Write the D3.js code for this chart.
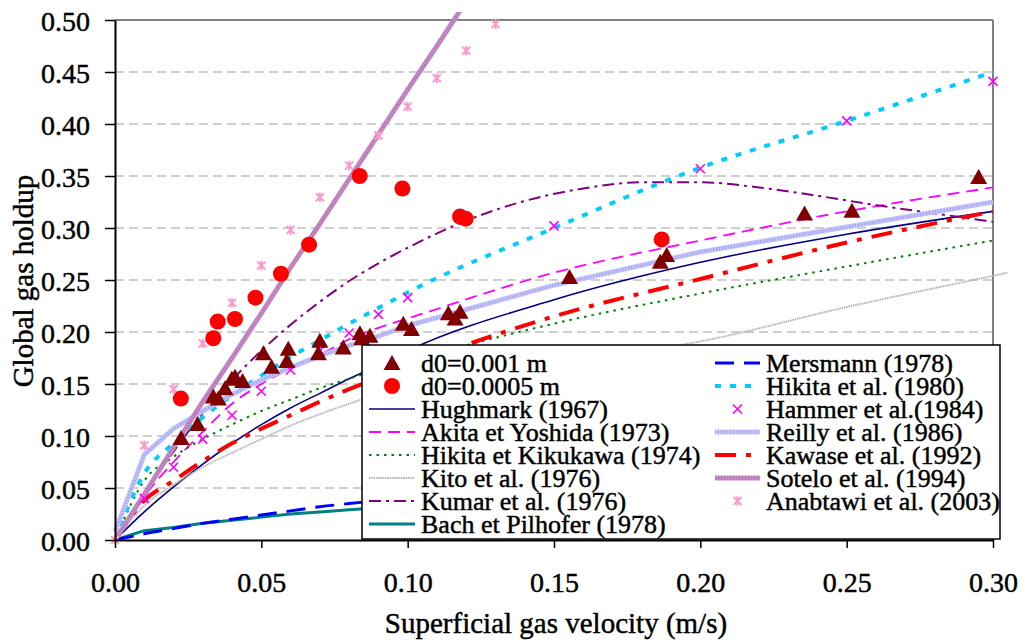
<!DOCTYPE html>
<html><head><meta charset="utf-8">
<script src="https://cdn.jsdelivr.net/npm/d3@7"></script>
<style>
html,body{margin:0;padding:0;background:#fff;}
</style></head>
<body>
<svg id="chart" width="1034" height="640"></svg>
<script>
// ---------- DATA ----------
const yTicks = [0.00,0.05,0.10,0.15,0.20,0.25,0.30,0.35,0.40,0.45,0.50];
const xTicks = [0.00,0.05,0.10,0.15,0.20,0.25,0.30];

// common abscissa of the correlation curves (m/s)
const corrX = [0,0.01,0.02,0.03,0.04,0.05,0.06,0.07,0.08,0.09,0.10,0.15,0.20,0.25,0.30];
const hughmark   = [0,0.027,0.051,0.073,0.093,0.111,0.127,0.141,0.155,0.168,0.182,0.231,0.267,0.294,0.316];
const akita      = [0,0.042,0.075,0.104,0.131,0.150,0.165,0.178,0.193,0.204,0.213,0.257,0.288,0.316,0.339];
const hikitaKik  = [0,0.057,0.080,0.097,0.111,0.124,0.135,0.146,0.155,0.164,0.172,0.208,0.237,0.263,0.288];
const mersmann   = [0,0.006,0.011,0.016,0.020,0.024,0.028,0.032,0.035,0.038,0.041,0.054,0.066,0.076,0.086];
const bach       = [0,0.009,0.012,0.016,0.019,0.022,0.025,0.027,0.029,0.031,0.033,0.042,0.049,0.055,0.061];
const hikita1980 = [0,0.064,0.093,0.118,0.139,0.158,0.176,0.192,0.208,0.223,0.238,0.300,0.358,0.403,0.450];
const reilly     = [0.008,0.082,0.107,0.124,0.140,0.154,0.166,0.177,0.187,0.196,0.206,0.245,0.277,0.301,0.325];
const kawase     = [0,0.038,0.057,0.076,0.093,0.107,0.120,0.133,0.145,0.156,0.167,0.215,0.251,0.286,0.316];

const kitoX = [0,0.01,0.02,0.03,0.04,0.05,0.06,0.07,0.08,0.09,0.10,0.15,0.20,0.25,0.30,0.305];
const kito  = [0,0.033,0.053,0.070,0.084,0.097,0.110,0.121,0.131,0.140,0.148,0.170,0.191,0.224,0.254,0.257];

const kumarX = [0,0.01,0.02,0.03,0.04,0.05,0.06,0.07,0.08,0.09,0.10,0.12,0.14,0.16,0.18,0.20,0.22,0.24,0.26,0.28,0.30];
const kumar  = [0,0.044,0.085,0.122,0.154,0.182,0.207,0.229,0.249,0.266,0.281,0.307,0.326,0.338,0.344,0.344,0.339,0.331,0.322,0.314,0.306];

const soteloX = [0,0.01,0.02,0.03,0.04,0.05,0.06,0.07,0.08,0.09,0.10,0.11,0.12];
const sotelo  = [0,0.044,0.089,0.133,0.175,0.218,0.262,0.304,0.347,0.390,0.433,0.475,0.518];

const hammerX = [0.01,0.02,0.03,0.04,0.05,0.06,0.07,0.08,0.09,0.10,0.15,0.20,0.25,0.30];
const hammer  = [0.040,0.070,0.097,0.120,0.143,0.1635,0.182,0.199,0.217,0.233,0.302,0.357,0.403,0.441];

const anabX = [0,0.01,0.02,0.03,0.04,0.05,0.06,0.07,0.08,0.09,0.10,0.11,0.12,0.13];
const anab  = [0,0.091,0.145,0.189,0.228,0.264,0.298,0.3295,0.360,0.389,0.4167,0.444,0.4705,0.496];

// experimental, d0 = 0.001 m
const tri001X = [0.0226,0.0282,0.0336,0.0353,0.0376,0.0399,0.041,0.0436,0.0507,0.0535,0.0592,0.0587,0.070,0.0695,0.078,0.0837,0.0843,0.0871,0.0985,0.1013,0.1139,0.1179,0.1162,0.1553,0.1863,0.1885,0.2356,0.2518,0.2951];
const tri001Y = [0.098,0.1115,0.138,0.136,0.146,0.155,0.157,0.153,0.1795,0.1667,0.184,0.172,0.1917,0.1795,0.185,0.1987,0.194,0.1965,0.208,0.203,0.218,0.2195,0.213,0.253,0.2676,0.274,0.314,0.3167,0.349];
// experimental, d0 = 0.0005 m
const circ0005X = [0.0225,0.0336,0.0351,0.041,0.048,0.0567,0.0663,0.0836,0.0982,0.1179,0.1198,0.1868];
const circ0005Y = [0.136,0.194,0.210,0.2125,0.233,0.256,0.284,0.350,0.338,0.311,0.309,0.289];

const legendLeft  = ["d0=0.001 m","d0=0.0005 m","Hughmark (1967)","Akita et Yoshida (1973)","Hikita et Kikukawa (1974)","Kito et al. (1976)","Kumar et al. (1976)","Bach et Pilhofer (1978)"];
const legendRight = ["Mersmann (1978)","Hikita et al. (1980)","Hammer et al.(1984)","Reilly et al. (1986)","Kawase et al. (1992)","Sotelo et al. (1994)","Anabtawi et al. (2003)"];

// ---------- STYLES ----------
const FONT = "Liberation Serif";
const TEXT_STROKE = 0.45;
const lineStyles = {
  "Hughmark (1967)":          {stroke:"#000080", width:1.6, dash:null},
  "Akita et Yoshida (1973)":  {stroke:"#ff00ff", width:1.8, dash:"12,7"},
  "Hikita et Kikukawa (1974)":{stroke:"#008000", width:2,   dash:"2.5,5"},
  "Kito et al. (1976)":       {stroke:"#b4b4b4", width:2,   dash:"1.5,0.8"},
  "Kumar et al. (1976)":      {stroke:"#800080", width:2,   dash:"12,5,3,5"},
  "Bach et Pilhofer (1978)":  {stroke:"#008080", width:3,   dash:null},
  "Mersmann (1978)":          {stroke:"#0000ff", width:3,   dash:"19,10"},
  "Hikita et al. (1980)":     {stroke:"#00ccff", width:4,   dash:"6,9"},
  "Reilly et al. (1986)":     {stroke:"#c4c4f8", width:5,   dash:null, texture:"#9d9df2"},
  "Kawase et al. (1992)":     {stroke:"#ff0000", width:4,   dash:"21,10,5,10"},
  "Sotelo et al. (1994)":     {stroke:"#c58cc5", width:5,   dash:null, texture:"#b070b0"}
};

// ---------- CHART ----------
const svg = d3.select("#chart");
const x = d3.scaleLinear().domain([0,0.3]).range([115,993]);
const y = d3.scaleLinear().domain([0,0.5]).range([540,20]);

function styleText(sel, size){
  return sel.attr("font-family",FONT).attr("font-size",size).attr("fill","#000")
    .attr("stroke","#000").attr("stroke-width",TEXT_STROKE);
}

// gridlines
svg.append("g").selectAll("line").data(yTicks.filter(t=>t>0 && t<0.5)).join("line")
  .attr("x1",x(0)).attr("x2",x(0.3)).attr("y1",d=>y(d)).attr("y2",d=>y(d))
  .attr("stroke","#c0c0c0").attr("stroke-width",1.5).attr("stroke-dasharray","9,5");

// plot frame (top & right)
svg.append("line").attr("x1",x(0)).attr("x2",x(0.3)).attr("y1",y(0.5)).attr("y2",y(0.5))
  .attr("stroke","#808080").attr("stroke-width",2);
svg.append("line").attr("x1",x(0.3)).attr("x2",x(0.3)).attr("y1",y(0.5)).attr("y2",y(0))
  .attr("stroke","#808080").attr("stroke-width",2);

svg.append("defs").append("clipPath").attr("id","clip").append("rect")
  .attr("x",113).attr("y",12).attr("width",900).attr("height",530);

function drawLine(g, xs, ys, name, curve){
  const st = lineStyles[name];
  const pts = xs.map((v,i)=>[v, ys[i]]);
  const gen = d3.line().x(d=>x(d[0])).y(d=>y(d[1])).curve(curve||d3.curveMonotoneX);
  const p = g.append("path").datum(pts).attr("d",gen).attr("fill","none")
    .attr("stroke",st.stroke).attr("stroke-width",st.width).attr("stroke-linejoin","round");
  if(st.dash) p.attr("stroke-dasharray",st.dash);
  if(st.texture){
    g.append("path").datum(pts).attr("d",gen).attr("fill","none")
      .attr("stroke",st.texture).attr("stroke-width",st.width-2).attr("stroke-dasharray","1,2");
  }
}

const lines = svg.append("g").attr("clip-path","url(#clip)");
drawLine(lines, corrX, hughmark, "Hughmark (1967)");
drawLine(lines, corrX, akita, "Akita et Yoshida (1973)");
drawLine(lines, corrX, hikitaKik, "Hikita et Kikukawa (1974)");
drawLine(lines, kitoX, kito, "Kito et al. (1976)");
drawLine(lines, kumarX, kumar, "Kumar et al. (1976)");
drawLine(lines, corrX, bach, "Bach et Pilhofer (1978)", d3.curveLinear);
drawLine(lines, corrX, mersmann, "Mersmann (1978)");
drawLine(lines, corrX, hikita1980, "Hikita et al. (1980)");
drawLine(lines, corrX, reilly, "Reilly et al. (1986)", d3.curveLinear);
drawLine(lines, corrX, kawase, "Kawase et al. (1992)");
drawLine(lines, soteloX, sotelo, "Sotelo et al. (1994)", d3.curveLinear);

// marker helpers
function crossMark(g, cx, cy, s, color){
  g.append("path").attr("d",`M${cx-s},${cy-s}L${cx+s},${cy+s}M${cx-s},${cy+s}L${cx+s},${cy-s}`)
    .attr("stroke",color).attr("stroke-width",1.6).attr("fill","none");
}
function starMark(g, cx, cy, s, color){
  g.append("path").attr("d",`M${cx-s},${cy-s}L${cx+s},${cy+s}M${cx-s},${cy+s}L${cx+s},${cy-s}M${cx},${cy-s*1.2}L${cx},${cy+s*1.2}`)
    .attr("stroke",color).attr("stroke-width",2).attr("fill","none");
}
function triMark(g, cx, cy, color){
  g.append("path").attr("d",`M${cx},${cy-8}L${cx+8.5},${cy+7}L${cx-8.5},${cy+7}Z`).attr("fill",color);
}
function circMark(g, cx, cy, color){
  g.append("circle").attr("cx",cx).attr("cy",cy).attr("r",8).attr("fill",color);
}

const marks = svg.append("g");
hammerX.forEach((v,i)=>crossMark(marks, x(v), y(hammer[i]), 4.5, "#ff00ff"));
anabX.forEach((v,i)=>starMark(marks, x(v), y(anab[i]), 4, "#ff99cc"));
circ0005X.forEach((v,i)=>circMark(marks, x(v), y(circ0005Y[i]), "#ff0000"));
tri001X.forEach((v,i)=>triMark(marks, x(v), y(tri001Y[i]), "#800000"));

// axes
const yAxis = d3.axisLeft(y).tickValues(yTicks).tickFormat(d3.format(".2f")).tickSize(10).tickSizeOuter(0);
const gy = svg.append("g").attr("transform",`translate(${x(0)},0)`).call(yAxis).attr("font-family",FONT);
gy.select(".domain").attr("stroke","#000").attr("stroke-width",2);
gy.selectAll(".tick line").attr("stroke","#000").attr("stroke-width",1.5);
styleText(gy.selectAll("text").attr("x",-25).attr("dy","0.37em"), 28);

const xAxis = d3.axisBottom(x).tickValues(xTicks).tickFormat(d3.format(".2f")).tickSize(8).tickSizeOuter(0);
const gx = svg.append("g").attr("transform",`translate(0,${y(0)})`).call(xAxis).attr("font-family",FONT);
gx.select(".domain").attr("stroke","#000").attr("stroke-width",2);
gx.selectAll(".tick line").attr("stroke","#000").attr("stroke-width",1.5);
styleText(gx.selectAll("text").attr("y",52).attr("dy",0), 28);

// axis titles
styleText(svg.append("text").attr("x",556).attr("y",633).attr("text-anchor","middle"), 29)
  .text("Superficial gas velocity (m/s)");
styleText(svg.append("text").attr("transform","translate(33,281) rotate(-90)").attr("text-anchor","middle"), 29)
  .text("Global gas holdup");

// legend
const lg = svg.append("g");
lg.append("rect").attr("x",362).attr("y",345).attr("width",638).attr("height",194)
  .attr("fill","#fff").attr("stroke","#000").attr("stroke-width",1.5);

function legendSample(g, name, x0, x1, cy){
  const mid = (x0+x1)/2;
  if(name==="d0=0.001 m") return triMark(g, mid, cy, "#800000");
  if(name==="d0=0.0005 m") return circMark(g, mid, cy, "#ff0000");
  if(name==="Hammer et al.(1984)") return crossMark(g, mid, cy, 4.5, "#ff00ff");
  if(name==="Anabtawi et al. (2003)") return starMark(g, mid, cy, 4, "#ff99cc");
  const st = lineStyles[name];
  const l = g.append("line").attr("x1",x0).attr("x2",x1).attr("y1",cy).attr("y2",cy)
    .attr("stroke",st.stroke).attr("stroke-width",st.width);
  if(st.dash) l.attr("stroke-dasharray",st.dash);
  if(st.texture) g.append("line").attr("x1",x0).attr("x2",x1).attr("y1",cy).attr("y2",cy)
    .attr("stroke",st.texture).attr("stroke-width",st.width-2).attr("stroke-dasharray","1,2");
}
legendLeft.forEach((name,i)=>{
  const cy = 363 + i*23;
  legendSample(lg, name, 369, 415, cy);
  styleText(lg.append("text").attr("x",421).attr("y",cy+9), 26).text(name);
});
legendRight.forEach((name,i)=>{
  const cy = 363 + i*23;
  legendSample(lg, name, 715, 760, cy);
  styleText(lg.append("text").attr("x",766).attr("y",cy+9), 26).text(name);
});
</script>
</body></html>
